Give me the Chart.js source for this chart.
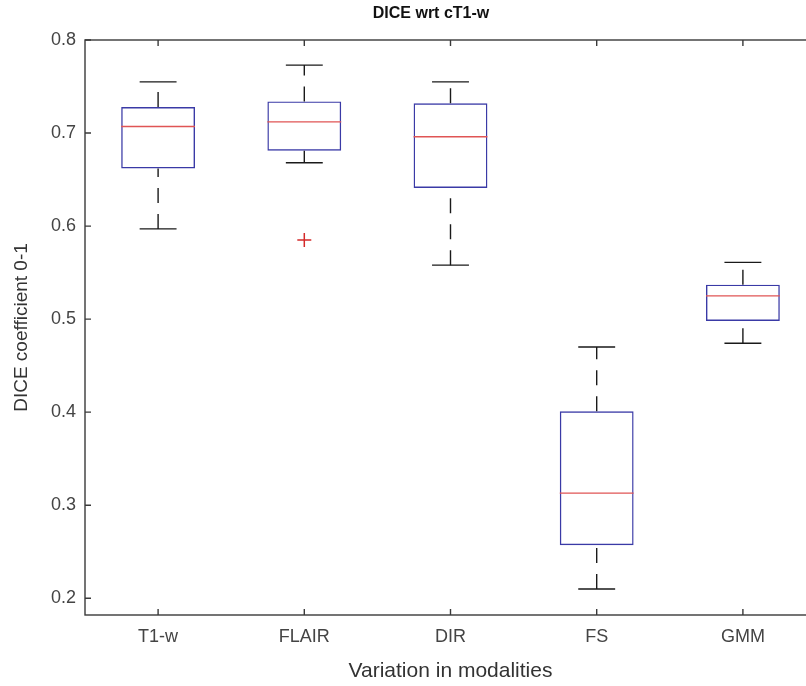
<!DOCTYPE html>
<html>
<head>
<meta charset="utf-8">
<title>DICE wrt cT1-w</title>
<script src="https://cdn.jsdelivr.net/npm/chart.js@4.4.1/dist/chart.umd.min.js"></script>
<style>
  html, body { margin: 0; padding: 0; background: #fff; overflow: hidden; }
  #wrap { width: 840px; height: 686px; }
</style>
</head>
<body>
<div id="wrap"><canvas id="boxChart" width="840" height="686"></canvas></div>
<script>
// box plot values
const modalities = ['T1-w', 'FLAIR', 'DIR', 'FS', 'GMM'];
const whiskerLow = [0.597, 0.668, 0.558, 0.210, 0.474];
const quartile1 = [0.662, 0.681, 0.641, 0.257, 0.498];
const medians = [0.707, 0.712, 0.696, 0.313, 0.525];
const quartile3 = [0.728, 0.734, 0.732, 0.401, 0.537];
const whiskerHigh = [0.755, 0.773, 0.755, 0.470, 0.561];
const outlierValues = [null, 0.585, null, null, null];
const yTicks = [0.2, 0.3, 0.4, 0.5, 0.6, 0.7, 0.8];
const chartTitle = 'DICE wrt cT1-w';

const FONT = "'Liberation Sans', Arial, Helvetica, sans-serif";
const AXIS_COLOR = '#3a3a3a';
const BOX_COLOR = '#3a3aa6';
const MEDIAN_COLOR = '#e05555';

// whiskers, caps and medians, placed from the bar elements and y scale
const boxParts = {
    id: 'boxParts',
    afterDatasetsDraw(chart) {
        const ctx = chart.ctx;
        const y = chart.scales.y;
        const bars = chart.getDatasetMeta(0).data;
        ctx.save();
        bars.forEach((bar, i) => {
            const half = bar.width / 2;
            const capHalf = bar.width / 4;
            const yLo = y.getPixelForValue(whiskerLow[i]);
            const yQ1 = y.getPixelForValue(quartile1[i]);
            const yQ3 = y.getPixelForValue(quartile3[i]);
            const yHi = y.getPixelForValue(whiskerHigh[i]);
            const yMed = y.getPixelForValue(medians[i]);

            // dashed whiskers, drawn from low value to high value like matlab
            ctx.strokeStyle = '#1a1a1a';
            ctx.lineWidth = 1.4;
            ctx.setLineDash([15, 11]);
            ctx.beginPath();
            ctx.moveTo(bar.x, yLo);
            ctx.lineTo(bar.x, yQ1);
            ctx.moveTo(bar.x, yQ3);
            ctx.lineTo(bar.x, yHi);
            ctx.stroke();

            // caps
            ctx.setLineDash([]);
            ctx.beginPath();
            ctx.moveTo(bar.x - capHalf, yLo);
            ctx.lineTo(bar.x + capHalf, yLo);
            ctx.moveTo(bar.x - capHalf, yHi);
            ctx.lineTo(bar.x + capHalf, yHi);
            ctx.stroke();

            // median
            ctx.strokeStyle = MEDIAN_COLOR;
            ctx.lineWidth = 1.4;
            ctx.beginPath();
            ctx.moveTo(bar.x - half, yMed);
            ctx.lineTo(bar.x + half, yMed);
            ctx.stroke();
        });
        ctx.restore();
    }
};

// matlab style axes box with inward ticks, plus the title (sits a bit left of centre in the original)
const axesBox = {
    id: 'axesBox',
    afterDraw(chart) {
        const ctx = chart.ctx;
        const a = chart.chartArea;
        const xs = chart.scales.x;
        const ys = chart.scales.y;
        const len = 6;
        ctx.save();
        ctx.strokeStyle = AXIS_COLOR;
        ctx.lineWidth = 1.4;
        ctx.strokeRect(a.left, a.top, a.right - a.left, a.bottom - a.top);
        ctx.beginPath();
        xs.ticks.forEach((t, i) => {
            const px = xs.getPixelForTick(i);
            ctx.moveTo(px, a.bottom);
            ctx.lineTo(px, a.bottom - len);
            ctx.moveTo(px, a.top);
            ctx.lineTo(px, a.top + len);
        });
        ys.ticks.forEach(t => {
            const py = ys.getPixelForValue(t.value);
            ctx.moveTo(a.left, py);
            ctx.lineTo(a.left + len, py);
            ctx.moveTo(a.right, py);
            ctx.lineTo(a.right - len, py);
        });
        ctx.stroke();

        ctx.fillStyle = '#111';
        ctx.font = 'bold 16px ' + FONT;
        ctx.textAlign = 'center';
        ctx.textBaseline = 'middle';
        ctx.fillText(chartTitle, 431, 14);
        ctx.restore();
    }
};

const ctx = document.getElementById('boxChart').getContext('2d');
new Chart(ctx, {
    type: 'bar',
    data: {
        labels: modalities,
        datasets: [{
            label: 'Box',
            data: modalities.map((m, i) => [quartile1[i], quartile3[i]]),
            backgroundColor: 'rgba(0,0,0,0)',
            borderColor: BOX_COLOR,
            borderWidth: 1.4,
            borderSkipped: false,
            barPercentage: 0.505,
            categoryPercentage: 1.0
        }, {
            type: 'line',
            label: 'Outliers',
            data: outlierValues,
            showLine: false,
            pointStyle: 'cross',
            pointRadius: 7,
            pointBorderWidth: 1.5,
            pointBorderColor: '#d42a2a',
            pointBackgroundColor: '#d42a2a'
        }]
    },
    options: {
        responsive: false,
        animation: false,
        layout: { padding: { left: 0, right: 24, top: 40, bottom: 0 } },
        scales: {
            x: {
                grid: { display: false, drawTicks: false },
                border: { display: false },
                ticks: { color: '#444', font: { family: FONT, size: 18 }, padding: 11 },
                title: {
                    display: true,
                    text: 'Variation in modalities',
                    color: '#333',
                    font: { family: FONT, size: 21 },
                    padding: { top: 0, bottom: 2 }
                },
                afterFit: scale => { scale.height = 71; }
            },
            y: {
                min: 0.182,
                max: 0.8,
                grid: { display: false, drawTicks: false },
                border: { display: false },
                afterBuildTicks: scale => { scale.ticks = yTicks.map(v => ({ value: v })); },
                ticks: {
                    color: '#444',
                    font: { family: FONT, size: 18 },
                    padding: 9,
                    callback: v => v.toFixed(1)
                },
                title: {
                    display: true,
                    text: 'DICE coefficient 0-1',
                    color: '#333',
                    font: { family: FONT, size: 19 },
                    padding: { top: 10, bottom: 0 }
                },
                afterFit: scale => { scale.width = 85; }
            }
        },
        plugins: {
            legend: { display: false },
            tooltip: { enabled: false },
            title: { display: false }
        }
    },
    plugins: [boxParts, axesBox]
});
</script>
</body>
</html>
